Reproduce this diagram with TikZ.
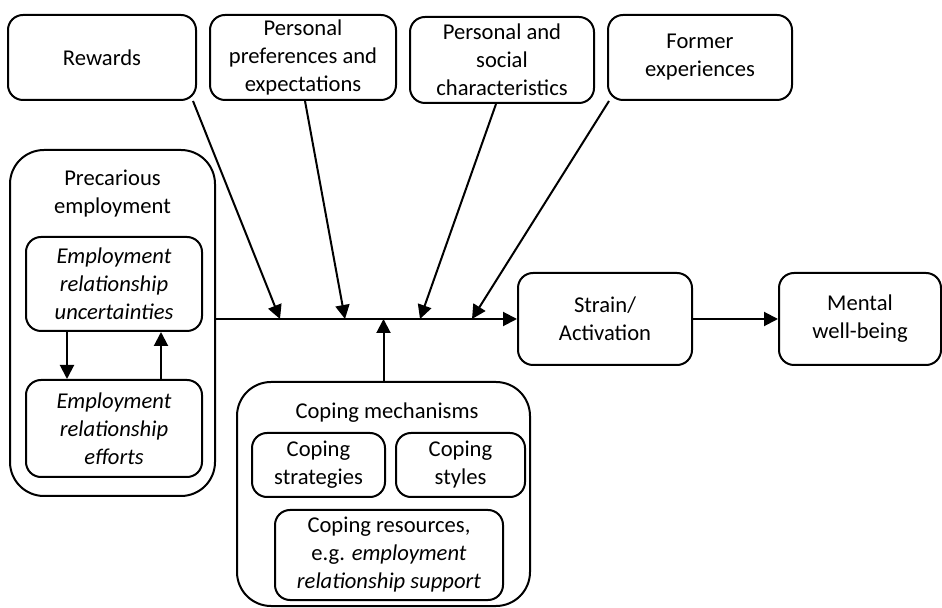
\documentclass[tikz,border=0pt]{standalone}
\usepackage{fontspec}
\setmainfont{Carlito}
\usetikzlibrary{arrows.meta}
\begin{document}
\begin{tikzpicture}[x=0.5pt,y=-0.5pt,
  every node/.style = {align=center, inner sep=0pt,
    font=\fontsize{11.3}{14}\selectfont},
  box/.style  = {draw, line width=1pt, rounded corners=7.5pt},
  frame/.style = {draw, line width=1pt, rounded corners=17pt},
  link/.style = {line width=1pt, -{Triangle[length=7pt,width=7pt]}}]
\useasboundingbox (0,0) rectangle (942,608);
\node[box, minimum width=94pt, minimum height=42.5pt] (rew) at (102,57.5) {Rewards};
\node[box, minimum width=93pt, minimum height=42.5pt] (pref) at (303,57.5)
  {Personal\\preferences and\\expectations};
\node[box, minimum width=92pt, minimum height=43pt] (soc) at (502,60)
  {Personal and\\social\\characteristics};
\node[box, minimum width=92pt, minimum height=42.5pt] (form) at (700,57.5)
  {Former\\experiences};
\node[frame, minimum width=102.5pt, minimum height=173pt] (prec) at (112.5,323) {};
\node (prectitle) at (112.5,194) {Precarious\\employment};
\node[box, minimum width=88pt, minimum height=47pt] (uncert) at (114,284)
  {\textit{Employment}\\\textit{relationship}\\\textit{uncertainties}};
\node[box, minimum width=88pt, minimum height=48.5pt] (effort) at (114,428.5)
  {\textit{Employment}\\\textit{relationship}\\\textit{efforts}};
\node[box, minimum width=87pt, minimum height=46pt] (strain) at (605,319)
  {Strain/\\Activation};
\node[box, minimum width=81pt, minimum height=46pt] (mental) at (860,319)
  {Mental\\well-being};
\node[frame, minimum width=146.5pt, minimum height=112pt] (cope) at (383.5,494) {};
\node (copetitle) at (387,413) {Coping mechanisms};
\node[box, minimum width=66.5pt, minimum height=32pt] (strat) at (318.5,465)
  {Coping\\strategies};
\node[box, minimum width=64.5pt, minimum height=32pt] (styl) at (460.5,465)
  {Coping\\styles};
\node[box, minimum width=114pt, minimum height=45pt] (res) at (389,555)
  {Coping resources,\\e.g. \textit{employment}\\\textit{relationship support}};
\coordinate (m1) at (280,319);
\coordinate (m2) at (345,319);
\coordinate (m3) at (420,319);
\coordinate (m4) at (472,319);
\draw[link] ([xshift=21pt]uncert.south west) -- ([xshift=21pt]effort.north west);
\draw[link] ([xshift=-21pt]effort.north east) -- ([xshift=-21pt]uncert.south east);
\draw[link] (prec.east |- strain.west) -- (strain.west);
\draw[link] (strain) -- (mental);
\draw[link] ([xshift=-2pt]rew.south east) -- (m1);
\draw[link] ([xshift=1pt]pref.south) -- (m2);
\draw[link] ([xshift=-3pt]soc.south) -- (m3);
\draw[link] ([xshift=1pt]form.south west) -- (m4);
\draw[link] (cope.north) -- (cope.north |- strain.west);
\end{tikzpicture}
\end{document}
